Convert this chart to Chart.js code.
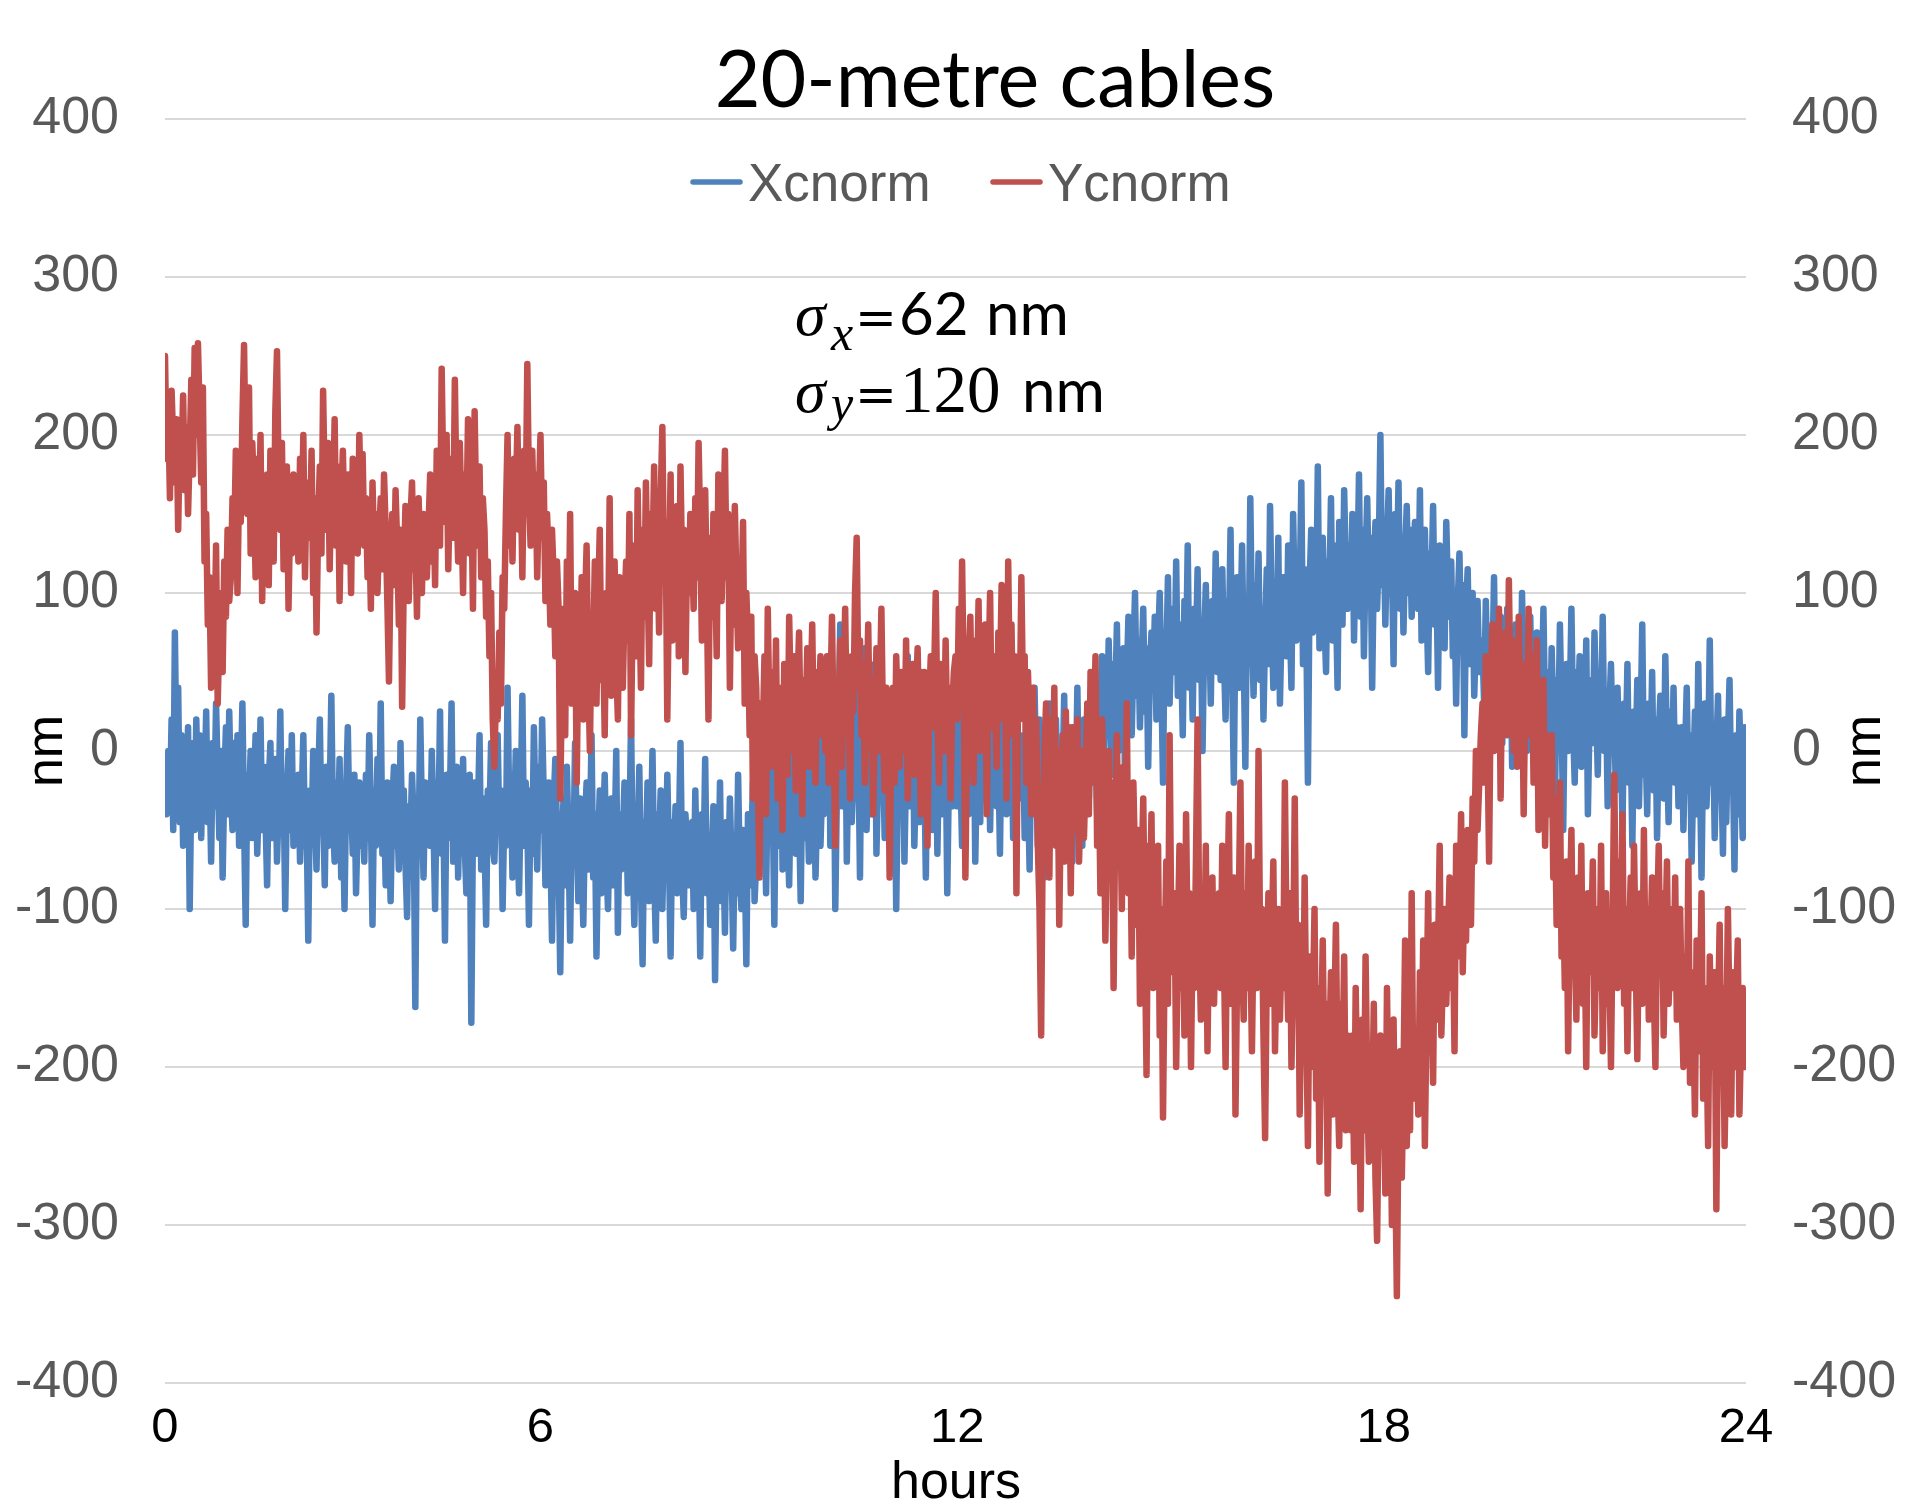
<!DOCTYPE html>
<html>
<head>
<meta charset="utf-8">
<title>20-metre cables</title>
<script src="https://cdn.jsdelivr.net/npm/chart.js@4.4.1/dist/chart.umd.min.js"></script>
<style>
  html, body { margin: 0; padding: 0; background: #fff; }
  #wrap { width: 1907px; height: 1505px; }
</style>
</head>
<body>
<div id="wrap"><canvas id="cables" width="1907" height="1505"></canvas></div>
<script>
// samples, two rows = 40 samples (about an hour)
const xcnorm = [
  -10, -40, 0, -35, 20, -50, 75, -10, 40, -45, 10, -60, -5, -30, 15, -100, -20, 5, -50, 20,
  -30, 10, -55, 0, -25, 25, -45, -10, -70, 5, -35, 30, -15, -55, 0, -80, -20, 15, -40, 25,
  -25, -50, 5, -40, 10, -60, -20, 30, -45, -110, -15, -35, 0, -55, -25, 10, -65, -30, 20, -50,
  -10, -40, -85, -20, 5, -55, -30, -5, -70, -35, 25, -45, -20, -100, -30, 0, -50, 10, -60, -25,
  -50, -15, -70, -30, 10, -60, -45, -120, -25, -55, 0, -40, -75, -20, 20, -50, -35, -85, -10, -60,
  -30, 35, -45, -70, -20, -55, -5, -80, -40, -100, -25, 15, -50, -30, -65, -15, -90, -45, -20, -60,
  -35, -70, -15, -55, 10, -40, -110, -25, -60, -5, -50, 30, -65, -30, -85, -20, -45, -95, -35, -10,
  -60, -40, -75, 5, -50, -25, -70, -105, -35, -55, -15, -45, -162, -30, -60, 20, -40, -80, -20, -50,
  -30, -60, 0, -45, -100, -20, -50, 25, -65, -35, -120, -15, -55, -30, 30, -70, -40, -10, -80, -25,
  -50, -5, -60, -90, -35, -15, -172, -45, -20, -65, -40, 10, -75, -30, -55, -110, -25, -45, 5, -60,
  -70, -30, 10, -50, -25, -100, -40, -60, 40, -35, -15, -80, -45, 0, -55, -90, -30, 35, -60, -20,
  -45, -110, -25, -65, 15, -40, -75, -10, -50, 20, -30, -85, -55, -20, -60, -120, -35, -5, -50, -70,
  -140, -60, -30, -85, -10, -55, -120, -40, -70, 5, -50, -95, -30, -65, -110, -45, -20, -75, -55, 10,
  -80, -40, -130, -60, -25, -90, -50, -15, -70, -100, -45, -30, -85, -60, 0, -115, -40, -75, -55, -20,
  -30, -90, -50, 20, -70, -110, -40, -60, -10, -85, -135, -45, -65, -20, -95, -55, 0, -75, -120, -40,
  -60, -25, -100, -50, -80, -15, -65, -130, -45, -70, -35, -90, -55, 5, -75, -105, -40, -60, -85, -50,
  -45, -100, -25, -80, -60, -130, -40, -75, -5, -90, -55, -110, -70, -35, -145, -65, -85, -20, -95, -60,
  -115, -45, -80, -30, -70, -125, -55, -90, -15, -75, -100, -50, -65, -135, -40, -85, -60, -20, -95, -70,
  -50, -20, -70, 10, -40, -90, -15, -55, 40, -30, -110, -10, -60, -35, 20, -75, -25, 0, -50, -85,
  -20, 30, -45, -65, -5, -40, -95, -15, -55, 25, -30, -70, 5, -45, -20, -80, -35, 15, -60, -25,
  -40, 20, -20, 60, -60, -5, 30, -100, -25, 10, 80, -35, -10, 45, -70, 0, 25, -45, -15, 50,
  -30, 5, -80, 30, -20, 65, -50, -5, 20, -40, 10, 55, -65, -15, 35, -30, 0, -55, 15, -20,
  -55, 20, -30, 5, -100, -20, 40, -40, 10, -70, -10, 60, -35, 0, 30, -60, -15, 20, -45, 50,
  -25, -5, -80, 15, -30, 40, -50, -10, 25, -65, 0, 45, -40, -20, 10, -90, -15, 30, -35, 5,
  0, -35, 40, -15, -60, 20, -5, 55, -40, 10, -25, 35, -70, -10, 25, -45, 5, 60, -30, -5,
  30, -50, 15, -20, 45, -35, 0, -65, 20, -15, 50, -40, 10, -25, 35, -55, -5, 15, -30, 5,
  -30, 10, -55, 25, -20, -75, 5, -40, 40, -15, -60, 20, -35, -5, -80, 15, -25, 30, -50, -10,
  -45, 20, -30, -65, 0, -20, 35, -55, -10, 15, -40, -70, 10, -25, 40, -35, -5, -60, 20, -15,
  0, -30, 30, -10, 45, 5, -40, 35, 15, 60, -20, 40, 10, 70, 25, -15, 55, 30, 80, 0,
  50, 20, 65, -25, 45, 85, 30, 10, 60, 100, 35, 70, 15, 55, 90, 25, 65, -10, 50, 75,
  40, 85, 20, 65, 100, 45, -20, 75, 55, 110, 30, 70, 90, 50, 120, 35, 80, 60, 10, 95,
  55, 130, 40, 75, 20, 90, 65, 115, 45, 80, 0, 70, 105, 50, 85, 30, 95, 60, 125, 50,
  90, 45, 115, 60, 20, 95, 70, 140, 50, -20, 85, 110, 40, 75, 130, 60, -10, 95, 55, 160,
  80, 35, 105, 65, 125, 45, 90, 20, 75, 115, 55, 155, 85, 40, 100, 65, 135, 30, 80, 110,
  110, 60, 130, 85, 40, 150, 95, 70, 120, 100, 170, 55, 115, 80, -20, 105, 140, 75, 125, 90,
  180, 65, 110, 135, 85, 50, 120, 100, 160, 70, 130, 95, 40, 145, 105, 80, 165, 115, 90, 130,
  95, 150, 70, 130, 110, 175, 85, 140, 60, 120, 160, 100, 135, 40, 115, 145, 90, 125, 200, 105,
  140, 80, 130, 165, 100, 120, 55, 150, 110, 170, 90, 135, 75, 125, 155, 100, 140, 85, 120, 145,
  130, 90, 165, 70, 115, 140, 95, 50, 125, 105, 155, 80, 110, 40, 130, 90, 115, 65, 145, 100,
  85, 120, 60, 100, 30, 95, 125, 70, 105, 10, 90, 115, 55, 80, 100, 35, 75, 95, 50, 70,
  65, 30, 95, 45, 10, 75, 50, 110, 25, 60, 40, 85, 5, 55, 35, 90, 20, 70, -10, 45,
  80, 30, 55, 15, 100, 40, 65, 0, 50, 85, 25, 60, 35, 75, 10, 55, 40, 90, 20, 50,
  40, 5, 65, 20, -30, 45, 10, 80, 25, -50, 35, 55, 0, 30, 90, 15, -20, 50, 25, 60,
  -10, 35, 15, 70, -40, 20, 45, 5, 75, 30, -15, 50, 20, 85, 0, 35, -35, 25, 55, 10,
  20, -25, 40, -10, 15, -50, 30, 0, 55, -20, 10, -60, 25, -5, 45, -35, 15, 80, -15, 5,
  -40, 30, -10, 50, -25, 20, -55, 10, 35, -5, -30, 60, 0, -45, 25, -15, 40, -20, 15, -35,
  -30, 15, -50, 0, 40, -25, 10, -70, -15, 25, -40, 55, -10, -80, 5, 30, -35, -5, 70, -20,
  15, -55, 0, 35, -30, -10, -65, 20, -45, 5, 45, -25, -5, -75, 10, -40, 25, -15, -55, 15,
  0
];

const ycnorm = [
  250, 185, 215, 160, 228, 195, 170, 210, 140, 200, 180, 225, 165, 205, 150, 190, 235, 175, 255, 200,
  258, 215, 170, 230, 120, 150, 80, 110, 40, 95, 60, 130, 30, 75, 100, 50, 120, 85, 140, 95,
  110, 160, 130, 190, 100, 170, 145, 210, 257, 180, 150, 230, 125, 195, 165, 110, 185, 140, 200, 95,
  155, 130, 175, 105, 190, 150, 120, 215, 253, 170, 140, 195, 115, 160, 180, 90, 150, 125, 175, 140,
  160, 120, 185, 140, 200, 110, 170, 150, 135, 190, 100, 160, 75, 145, 180, 125, 228, 165, 140, 195,
  115, 170, 150, 210, 130, 180, 95, 155, 190, 140, 120, 175, 160, 100, 185, 145, 165, 125, 200, 150,
  188, 130, 160, 110, 145, 90, 170, 125, 150, 100, 135, 160, 115, 175, 140, 95, 44, 120, 150, 105,
  165, 130, 80, 140, 28, 110, 155, 125, 95, 145, 170, 115, 135, 85, 160, 120, 100, 150, 130, 110,
  140, 175, 120, 160, 105, 190, 150, 130, 242, 170, 145, 200, 115, 165, 185, 135, 235, 160, 120, 195,
  150, 100, 175, 140, 210, 125, 165, 90, 215, 150, 130, 180, 110, 160, 140, 85, 120, 60, 100, 20,
  -10, 40, 20, 75, 30, 110, 90, 150, 200, 130, 170, 120, 185, 160, 205, 140, 175, 110, 190, 150,
  245, 165, 130, 190, 145, 175, 110, 160, 200, 135, 170, 95, 150, 120, 80, 140, 110, 60, 120, 90,
  -30, 40, 90, 10, 120, 60, 150, 30, 80, 100, -20, 70, 40, 110, 20, 90, 130, 50, 0, 80,
  60, 120, 30, 95, 140, 45, 75, 10, 100, 65, 160, 35, 85, 120, 55, 20, 110, 70, 40, 90,
  120, 70, 150, 10, 95, 130, 60, 165, 100, 40, 140, 85, 170, 110, 55, 150, 120, 180, 90, 135,
  75, 160, 205, 110, 145, 20, 100, 175, 70, 130, 95, 155, 60, 180, 115, 140, 50, 125, 100, 150,
  130, 90, 160, 110, 195, 140, 70, 120, 165, 100, 20, 135, 85, 150, 115, 60, 175, 125, 95, 140,
  190, 110, 150, 40, 130, 80, 155, 105, 65, 120, 90, 145, 30, 100, 70, 10, 85, -30, 60, 40,
  -20, -80, 30, 10, 60, -40, 90, 20, -10, 50, 0, 70, -30, 40, 15, -50, 55, 25, -15, 85,
  30, 0, 60, -25, 40, 75, 10, -40, 45, 20, 65, -10, 35, 80, 5, -20, 50, 25, 60, 10,
  40, 0, 60, -20, 30, 85, 10, -60, 45, 20, 70, -10, 35, 90, 15, 50, -30, 60, 25, 100,
  135, 40, 70, 10, 55, -20, 30, 80, 5, 45, -40, 20, 65, 0, 35, 90, 15, -25, 40, 20,
  -80, 10, 40, -20, 60, 20, -10, 50, 30, 0, 70, -30, 40, 15, 55, -15, 35, 65, 10, -40,
  25, 50, 0, -60, 30, 60, 15, 45, 100, 20, -20, 55, 35, 0, 70, 10, 40, -30, 25, 50,
  60, 20, 90, 30, 120, 40, -80, 10, 55, 85, 20, -20, 70, 35, 95, 0, 50, 25, 80, -40,
  45, 100, 15, 60, 30, -10, 75, 40, 105, 20, 55, -30, 120, 35, 80, 10, 60, -90, 40, 20,
  110, 30, 60, -20, 50, 10, -40, 40, -10, 20, -60, -100, -180, -50, 0, 30, -30, -80, 20, -20,
  40, -60, 0, -110, -30, 10, -70, 25, -40, -10, -90, 15, -50, -20, 20, -70, -30, 0, -55, -15,
  30, -40, 50, -20, 10, 60, -60, -10, -90, 20, -30, -120, -50, 0, -80, -20, -150, -40, 10, -70,
  -30, -100, -10, -60, 30, -90, -40, -130, -20, -70, -110, -50, -160, -80, -30, -120, -205, -60, -100, -40,
  -150, -80, -120, -60, -180, -100, -232, -130, -70, -160, 10, -110, -140, -90, -200, -120, -60, -150, -100, -180,
  -40, -130, -90, -200, -110, -150, -70, 20, -120, -170, -90, -140, -60, -190, -110, -130, -80, -160, -100, -120,
  -90, -150, -60, -130, -200, -100, -40, -160, -120, -80, -230, -140, -100, -20, -130, -170, -90, -150, -60, -120,
  -190, -110, -70, -150, 0, -130, -100, -180, -245, -140, -90, -160, -120, -70, -190, -130, -100, -170, -120, -150,
  -20, -120, -170, -90, -200, -140, -30, -160, -110, -230, -150, -190, -80, -170, -250, -130, -200, -160, -100, -220,
  -150, -260, -180, -120, -210, -160, -280, -190, -140, -230, -170, -110, -210, -250, -160, -200, -130, -240, -180, -210,
  -240, -180, -260, -150, -220, -200, -290, -170, -240, -130, -210, -260, -190, -230, -160, -270, -310, -220, -180, -250,
  -200, -280, -150, -240, -210, -300, -170, -260, -345, -230, -190, -270, -210, -120, -250, -200, -240, -90, -220, -190,
  -180, -230, -140, -200, -120, -250, -170, -90, -190, -150, -210, -110, -170, -130, -60, -180, -140, -100, -160, -120,
  -80, -150, -110, -190, -60, -130, -100, -40, -140, -90, -120, -50, -80, -110, -30, -70, 0, -50, -20, 10,
  30, -20, 60, 10, -70, 40, 80, 0, 50, 20, 90, -30, 60, 30, 75, 10, 108, 40, 70, 0,
  50, -10, 85, 30, 55, -40, 40, 20, 90, 10, 60, -20, 35, 70, -50, 25, 0, 45, -60, 10,
  0, -40, 10, -80, -30, -110, -60, -20, -130, -90, -150, -70, -190, -100, -50, -140, -120, -170, -80, -130,
  -60, -160, -110, -200, -90, -140, -120, -70, -180, -130, -100, -150, -60, -190, -120, -90, -160, -130, -200, -110,
  -15, -110, -150, -70, -130, -40, -160, -100, -190, -120, -80, -150, -60, -130, -195, -110, -90, -160, -50, -140,
  -100, -170, -120, -80, -150, -200, -110, -60, -140, -90, -180, -120, -70, -160, -130, -100, -150, -80, -170, -120,
  -100, -160, -200, -130, -180, -70, -210, -140, -170, -230, -120, -190, -160, -90, -220, -150, -180, -250, -130, -200,
  -160, -140, -290, -170, -110, -210, -150, -250, -190, -100, -170, -230, -140, -200, -160, -120, -230, -180, -150, -200,
  -180
];

// category axis: hour labels sit on these sample numbers (as in the picture)
const hourLabels = ["0", "6", "12", "18", "24"];
const hourLabelSample = [0, 228, 481, 740, 960];
const nmTicks = [-400, -300, -200, -100, 0, 100, 200, 300, 400];

const BLUE = "#4F81BD";
const RED = "#C0504D";
const GREY = "#595959";
const SANS = "'Liberation Sans', Arial, sans-serif";

const toPoints = (arr) => arr.map((v, i) => ({ x: i, y: v }));

// title, legend, axis titles and the sigma note are drawn on top
const overlay = {
  id: "overlay",
  afterDraw(chart) {
    const ctx = chart.ctx;
    ctx.save();

    // title
    ctx.fillStyle = "#000";
    ctx.font = "79px Lato";
    ctx.textAlign = "center";
    ctx.textBaseline = "alphabetic";
    ctx.fillText("20-metre cables", 995, 107);

    // legend
    ctx.lineWidth = 5.5;
    ctx.lineCap = "round";
    ctx.strokeStyle = BLUE;
    ctx.beginPath(); ctx.moveTo(693, 182); ctx.lineTo(740, 182); ctx.stroke();
    ctx.strokeStyle = RED;
    ctx.beginPath(); ctx.moveTo(993, 182); ctx.lineTo(1040, 182); ctx.stroke();
    ctx.fillStyle = GREY;
    ctx.font = "53px " + SANS;
    ctx.textAlign = "left";
    ctx.fillText("Xcnorm", 748, 201);
    ctx.fillText("Ycnorm", 1048, 201);

    // axis titles
    ctx.fillStyle = "#000";
    ctx.font = "52px " + SANS;
    ctx.textAlign = "center";
    ctx.fillText("hours", 956, 1498);
    [62, 1880].forEach((bx) => {
      ctx.save();
      ctx.translate(bx, 751);
      ctx.rotate(-Math.PI / 2);
      ctx.fillText("nm", 0, 0);
      ctx.restore();
    });

    // sigma note
    ctx.textAlign = "left";
    const sigma = (y, sub, subDrop, num) => {
      ctx.font = "italic 62px 'Liberation Serif'";
      ctx.fillText("\u03C3", 795, y);
      ctx.font = "italic 50px 'Liberation Serif'";
      ctx.fillText(sub, 831, y + subDrop);
      ctx.font = "50px 'DejaVu Serif'";
      ctx.fillText("=", 855, y);
      ctx.font = num.font;
      ctx.fillText(num.text, num.x, y);
      ctx.font = "60px Lato";
      ctx.fillText("nm", num.nmX, y);
    };
    sigma(335, "x", 15, { text: "62", font: "60px Lato", x: 899, nmX: 986 });
    sigma(412, "y", 8, { text: "120", font: "67px 'Liberation Serif'", x: 900, nmX: 1022 });

    ctx.restore();
  },
};

const ctx = document.getElementById("cables").getContext("2d");
const cableChart = new Chart(ctx, {
  type: "line",
  data: {
    datasets: [
      {
        label: "Xcnorm",
        data: toPoints(xcnorm),
        borderColor: BLUE,
        backgroundColor: BLUE,
        borderWidth: 6.5,
        pointRadius: 0,
        tension: 0,
        borderJoinStyle: "round",
        borderCapStyle: "round",
        order: 2,
      },
      {
        label: "Ycnorm",
        data: toPoints(ycnorm),
        borderColor: RED,
        backgroundColor: RED,
        borderWidth: 6.5,
        pointRadius: 0,
        tension: 0,
        borderJoinStyle: "round",
        borderCapStyle: "round",
        order: 1,
      },
    ],
  },
  options: {
    responsive: false,
    animation: false,
    devicePixelRatio: 1,
    layout: { padding: { top: 119, left: 0, right: 0, bottom: 0 } },
    plugins: {
      legend: { display: false },
      title: { display: false },
      tooltip: { enabled: false },
    },
    scales: {
      x: {
        type: "linear",
        min: 0,
        max: xcnorm.length - 1,
        afterBuildTicks: (scale) => { scale.ticks = hourLabelSample.map((v) => ({ value: v })); },
        afterFit: (scale) => { scale.height = 122; },
        ticks: {
          color: "#000",
          font: { family: SANS, size: 49 },
          padding: 16,
          maxRotation: 0,
          autoSkip: false,
          callback: (value) => hourLabels[hourLabelSample.indexOf(value)],
        },
        grid: { display: false, drawTicks: false },
        border: { display: false },
      },
      y: {
        position: "left",
        min: -400,
        max: 400,
        afterBuildTicks: (scale) => { scale.ticks = nmTicks.map((v) => ({ value: v })); },
        afterFit: (scale) => { scale.width = 165; },
        ticks: {
          color: GREY,
          font: { family: SANS, size: 52 },
          padding: 46,
        },
        grid: { color: "#d9d9d9", lineWidth: 2, drawTicks: false },
        border: { display: false },
      },
      y2: {
        position: "right",
        min: -400,
        max: 400,
        afterBuildTicks: (scale) => { scale.ticks = nmTicks.map((v) => ({ value: v })); },
        afterFit: (scale) => { scale.width = 161; },
        ticks: {
          color: GREY,
          font: { family: SANS, size: 52 },
          padding: 46,
        },
        grid: { display: false, drawTicks: false },
        border: { display: false },
      },
    },
  },
  plugins: [overlay],
});
</script>
</body>
</html>
